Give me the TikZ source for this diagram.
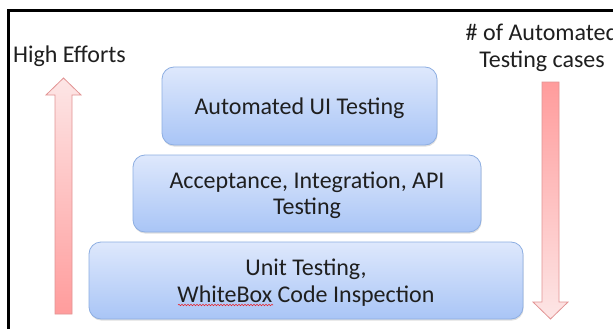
\documentclass[tikz,border=0pt]{standalone}
\usepackage{fontspec}
\setmainfont{Carlito}
\usetikzlibrary{shadows,decorations.pathmorphing}
\definecolor{boxtop}{HTML}{DEE8FC}
\definecolor{boxbot}{HTML}{A9C5F6}
\definecolor{boxline}{HTML}{8DAEE2}
\definecolor{pinklight}{HTML}{FDE6E6}
\definecolor{pinkdark}{HTML}{FF9C9C}
\definecolor{pinkline}{HTML}{E29494}
\definecolor{spellred}{HTML}{E8242C}
\tikzset{
  layer/.style={draw=boxline, line width=0.8pt, rounded corners=12pt,
    top color=boxtop, bottom color=boxbot, inner sep=0pt,
    drop shadow={opacity=0.25, shadow xshift=0.6pt, shadow yshift=-1.6pt}},
  layertext/.style={font=\fontsize{24}{26.5}\selectfont, text=black!88, align=center, inner sep=0pt},
  label/.style={font=\fontsize{24}{27}\selectfont, text=black!88, align=center, inner sep=0pt},
  effort/.style={draw=pinkline, line width=0.8pt},
  squiggle/.style={draw=spellred, line width=0.6pt,
    decorate, decoration={snake, amplitude=0.7pt, segment length=3pt}}
}
\begin{document}
\begin{tikzpicture}[x=1pt,y=1pt]
\useasboundingbox (0,0) rectangle (613,-329);
\fill[white] (0,0) rectangle (613,-329);
% frame
\draw[line width=2.4pt, line cap=rect] (8.5,-329) -- (8.5,-10.5) -- (613,-10.5);

% pyramid layers
\node[layer, minimum width=275pt, minimum height=78pt] (ui) at (299.5,-106) {};
\node[layer, minimum width=348pt, minimum height=77pt] (api) at (307,-193.5) {};
\node[layer, minimum width=434pt, minimum height=77pt] (unit) at (306,-280.5) {};
\node[layertext] (uitext) at ([yshift=-2pt]ui.center) {Automated UI Testing};
\node[layertext] (apitext) at ([yshift=-2pt]api.center) {Acceptance, Integration, API\\Testing};
\node[layertext] (unittext) at ([yshift=-2pt]unit.center) {Unit Testing,\\WhiteBox Code Inspection};

% spell-check underline below "WhiteBox"
\coordinate (sqa) at (178,-305);
\coordinate (sqb) at (273,-305);
\path[squiggle] (sqa) -- (sqb);

% side labels
\node[label, anchor=west] (effort) at (13,-56) {High Efforts};
\node[label] (cases) at (542,-48) {\# of Automated\\Testing cases};

% effort arrow (up)
\path[effort, top color=pinklight, bottom color=pinkdark]
  (55,-314) -- (55,-95) -- (46,-95) -- (63.5,-78) -- (81,-95) -- (72,-95) -- (72,-314) -- cycle;
% test-count arrow (down)
\path[effort, top color=pinkdark, bottom color=pinklight]
  (542,-82) -- (542,-302) -- (533,-302) -- (550.5,-319) -- (568,-302) -- (559,-302) -- (559,-82) -- cycle;
\end{tikzpicture}
\end{document}
